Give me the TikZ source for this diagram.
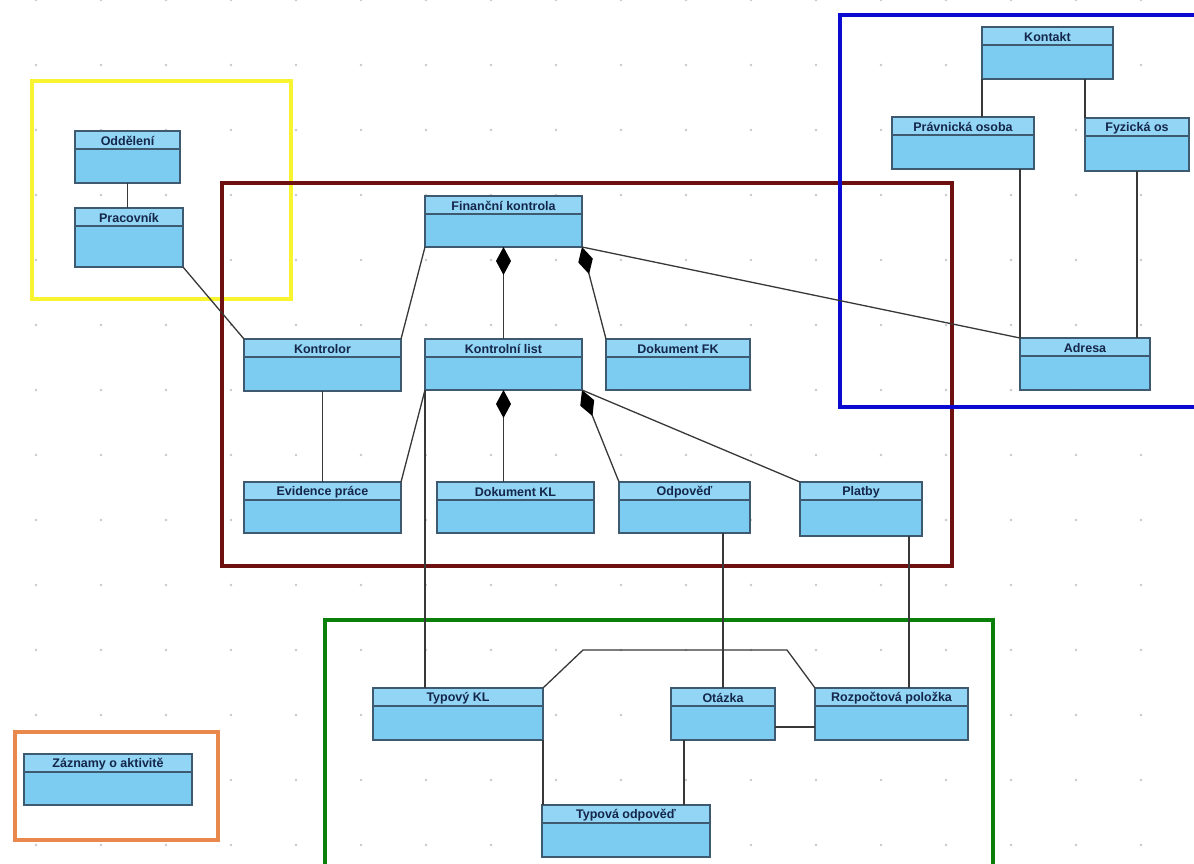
\documentclass[tikz,border=0pt]{standalone}
\usepackage{fontspec}
\setmainfont{Liberation Sans}
\usetikzlibrary{arrows.meta,calc}
\definecolor{bodyc}{HTML}{7CCBF0}
\definecolor{hdrc}{HTML}{92D5F4}
\definecolor{bordc}{HTML}{3E5A70}
\definecolor{txtc}{HTML}{14264A}
\definecolor{fyellow}{HTML}{F8F530}
\definecolor{fred}{HTML}{6E1010}
\definecolor{fblue}{HTML}{0A0AD0}
\definecolor{fgreen}{HTML}{0A800A}
\definecolor{forange}{HTML}{E8884C}
\definecolor{linec}{HTML}{383838}
\definecolor{gridc}{HTML}{C8C8C8}
\tikzset{
  clsbox/.style={draw=bordc, line width=1.6pt, fill=bodyc, inner sep=0pt, outer sep=0pt, rectangle},
  clstitle/.style={font=\fontsize{12.5}{14}\selectfont\bfseries, text=txtc, inner sep=0pt},
  frame/.style={line width=4pt},
  conn/.style={draw=linec, line width=1.3pt},
  comp/.style={conn, {Diamond[length=28pt,width=15pt,color=black,fill=black]}-},
}
\newcommand{\umlcls}[6]{%
  \node[clsbox, minimum width={#4-#2}, minimum height={#5-#3}, anchor=north west] (#1) at (#2,#3) {};
  \fill[hdrc] ([shift={(0.8,0.8)}]#1.north west) rectangle ([shift={(-0.8,18)}]#1.north east);
  \draw[bordc, line width=1.6pt] (#1.north west) rectangle (#1.south east);
  \draw[bordc, line width=1.4pt] ([yshift=-18pt]#1.north west) -- ([yshift=-18pt]#1.north east);
  \node[clstitle] (#1-t) at ($(#1.north)+(0,10)$) {#6};
}
\begin{document}
\begin{tikzpicture}[x=1pt,y=-1pt]
\useasboundingbox[fill=white] (0,0) rectangle (1194,864);
% grid dots
\foreach \i in {0,...,17} {\foreach \j in {0,...,13} {\fill[gridc] (36+65*\i,65*\j) circle (1.4);}}
% frames
\draw[frame, fyellow] (32,81) rectangle (291,299);
\draw[frame, fred] (222,183) rectangle (952,566);
\draw[frame, fblue] (840,15) rectangle (1200,407);
\draw[frame, fgreen] (325,620) rectangle (993,868);
\draw[frame, forange] (15,732) rectangle (218,840);
% classes
\umlcls{oddeleni}{75}{131}{180}{183}{Oddělení}
\umlcls{pracovnik}{75}{208}{183}{267}{Pracovník}
\umlcls{fk}{425}{196}{582}{247}{Finanční kontrola}
\umlcls{kontrolor}{244}{339}{401}{391}{Kontrolor}
\umlcls{kl}{425}{339}{582}{390}{Kontrolní list}
\umlcls{dokfk}{606}{339}{750}{390}{Dokument FK}
\umlcls{evid}{244}{482}{401}{533}{Evidence práce}
\umlcls{dkl}{437}{482}{594}{533}{Dokument KL}
\umlcls{odp}{619}{482}{750}{533}{Odpověď}
\umlcls{platby}{800}{482}{922}{536}{Platby}
\umlcls{kontakt}{982}{27}{1113}{79}{Kontakt}
\umlcls{pravn}{892}{117}{1034}{169}{Právnická osoba}
\umlcls{fyz}{1085}{118}{1189}{171}{Fyzická os}
\umlcls{adresa}{1020}{338}{1150}{390}{Adresa}
\umlcls{tkl}{373}{688}{543}{740}{Typový KL}
\umlcls{otazka}{671}{688}{775}{740}{Otázka}
\umlcls{rp}{815}{688}{968}{740}{Rozpočtová položka}
\umlcls{todp}{542}{805}{710}{857}{Typová odpověď}
\umlcls{zazn}{24}{754}{192}{805}{Záznamy o aktivitě}
% connectors
\draw[conn] (oddeleni.south) -- (oddeleni.south |- pracovnik.north);
\draw[conn] (pracovnik.south east) -- (kontrolor.north west);
\draw[conn] (kontrolor.north east) -- (fk.south west);
\draw[conn] (kontrolor.south) -- (evid.north);
\draw[comp] (fk.south) -- (kl.north);
\draw[comp] (fk.south east) -- (dokfk.north west);
\draw[conn] (fk.south east) -- (adresa.north west);
\draw[conn] (kl.south west) -- (evid.north east);
\draw[conn] (kl.south west) -- (kl.south west |- tkl.north);
\draw[comp] (kl.south) -- (kl.south |- dkl.north);
\draw[comp] (kl.south east) -- (odp.north west);
\draw[conn] (kl.south east) -- (platby.north west);
\draw[conn] (otazka.north) -- (otazka.north |- odp.south);
\draw[conn] ([xshift=-13pt]platby.south east) -- ([xshift=-13pt]platby.south east |- rp.north);
\draw[conn] (tkl.north east) -- ++(40,-38) -- ($(rp.north west)+(-28,-38)$) -- (rp.north west);
\draw[conn] ([yshift=-13pt]otazka.east) -- ([yshift=-13pt]rp.west);
\draw[conn] ([xshift=13pt]otazka.south west) -- ([xshift=13pt]otazka.south west |- todp.north);
\draw[conn] (tkl.south east) -- (tkl.south east |- todp.north);
\draw[conn] (kontakt.south west) -- (kontakt.south west |- pravn.north);
\draw[conn] (fyz.north west) -- (fyz.north west |- kontakt.south);
\draw[conn] (adresa.north west) -- (adresa.north west |- pravn.south);
\draw[conn] (fyz.south) -- (fyz.south |- adresa.north);
\end{tikzpicture}
\end{document}
